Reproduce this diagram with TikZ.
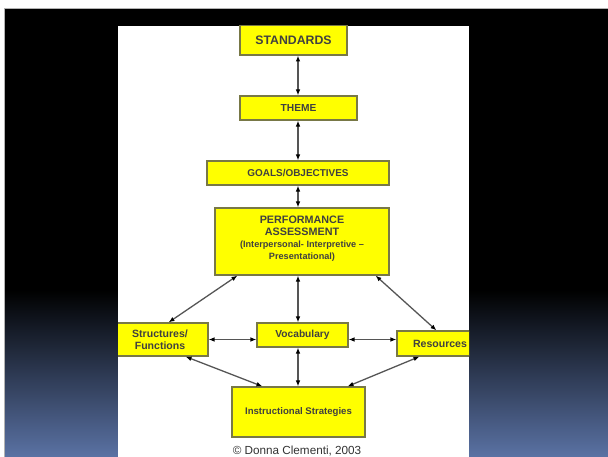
\documentclass[tikz,border=0pt]{standalone}
\usepackage{fontspec}
\setmainfont{Liberation Sans}
\usepackage{tikz}
\usetikzlibrary{arrows.meta,calc}
\definecolor{BoxYellow}{RGB}{255,255,0}
\definecolor{BoxEdge}{RGB}{120,120,70}
\definecolor{LinkGrey}{RGB}{85,85,85}
\definecolor{SlateBlue}{RGB}{90,114,164}

\begin{document}
\begin{tikzpicture}[>={Latex[length=5pt,width=4pt,black]},x=0.03cm,y=-0.03cm,
  box/.style={draw=BoxEdge,line width=1.1pt,fill=BoxYellow,text=black!75,inner sep=1pt,align=center,font=\bfseries\fontsize{8.7}{10.4}\selectfont},
  link/.style={<->,draw=LinkGrey,line width=1.1pt}]
\useasboundingbox (0,0) rectangle (608,457);
% slide background
\fill[white] (0,0) rectangle (608,457);
\fill[black] (4,8) rectangle (608,290);
\shade[top color=black,bottom color=SlateBlue] (4,289.5) rectangle (608,457);
\draw[gray!60,line width=0.6pt] (4,457) -- (4,8) -- (608,8);
\fill[white] (118,26) rectangle (469,457);
\begin{scope}
\clip (118,26) rectangle (469,457);
\node[box,minimum width=3.21cm,minimum height=0.9cm,font=\bfseries\fontsize{10.5}{12}\selectfont] (standards) at (293.5,40) {STANDARDS};
\node[box,minimum width=3.51cm,minimum height=0.72cm] (theme) at (298.5,108) {THEME};
\node[box,minimum width=5.46cm,minimum height=0.72cm,font=\bfseries\fontsize{8.5}{10}\selectfont] (goals) at (298,173) {GOALS/OBJECTIVES};
\node[box,minimum width=5.22cm,minimum height=2.01cm,font=\bfseries\fontsize{9.2}{10.4}\selectfont] (perf) at (302,241.5) {PERFORMANCE\\ASSESSMENT\\{\fontsize{7.8}{10.4}\selectfont(Interpersonal- Interpretive --}\\{\fontsize{7.8}{10.4}\selectfont Presentational)}\\[-4pt]};
\node[box,minimum width=2.88cm,minimum height=0.99cm,font=\bfseries\fontsize{9}{10.4}\selectfont] (struct) at (160,339.5) {Structures/\\Functions};
\node[box,minimum width=2.73cm,minimum height=0.72cm] (vocab) at (302.5,335) {Vocabulary};
\node[box,minimum width=2.58cm,minimum height=0.75cm,font=\bfseries\fontsize{9}{10.4}\selectfont] (res) at (440,343.5) {Resources};
\node[box,minimum width=3.99cm,minimum height=1.5cm,font=\bfseries\fontsize{8.2}{10}\selectfont] (instr) at (298.5,412) {Instructional Strategies};
\node[anchor=base,text=black!80,font=\fontsize{10}{12}\selectfont] (copy) at (297,454.5) {© Donna Clementi, 2003};
% links
\draw[link] (standards.south -| goals.center) -- (theme.north -| goals.center);
\draw[link] (theme.south -| goals.center) -- (goals.north);
\draw[link] (goals.south) -- (perf.north -| goals.center);
\draw[link] (perf.south -| goals.center) -- (vocab.north -| goals.center);
\draw[link] (vocab.south -| goals.center) -- (instr.north -| goals.center);
\draw[link] ($(perf.south west)+(23,0)$) -- ($(struct.north east)+(-40,0)$);
\draw[link] ($(perf.south east)+(-14,0)$) -- ($(res.north west)+(40,0)$);
\draw[link] (struct.east) -- (vocab.west |- struct.east);
\draw[link] (vocab.east |- struct.east) -- (res.west |- struct.east);
\draw[link] ($(struct.south east)+(-23,0)$) -- ($(instr.north west)+(31,0)$);
\draw[link] ($(res.south west)+(23,0)$) -- ($(instr.north east)+(-18,0)$);
\end{scope}
\end{tikzpicture}
\end{document}
